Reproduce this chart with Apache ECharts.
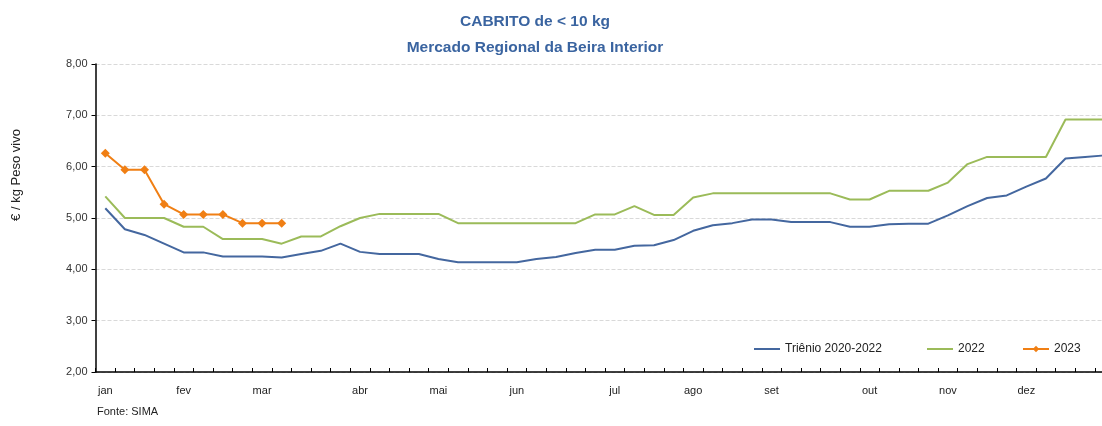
<!DOCTYPE html>
<html lang="pt">
<head>
  <meta charset="UTF-8">
  <title>Cabrito</title>
  <script src="https://cdn.jsdelivr.net/npm/echarts@6/dist/echarts.min.js"></script>
  <style type="text/css">
    html, body { margin: 0; padding: 0; background: #ffffff; overflow: hidden; }
    /* o gráfico original está cortado à direita: a última semana fica fora da imagem */
    #chart { width: 1115px; height: 426px; }
  </style>
</head>
<body>
<div id="chart"></div>
<script type="text/javascript">
// semanas do ano (1..52)
var weeks = [];
for (var w = 1; w <= 52; w++) { weeks.push(String(w)); }

// rótulos dos meses e semana onde aparecem
var monthNames = ['jan', 'fev', 'mar', 'abr', 'mai', 'jun', 'jul', 'ago', 'set', 'out', 'nov', 'dez'];
var monthWeek = [0, 4, 8, 13, 17, 21, 26, 30, 34, 39, 43, 47];

var yTicks = [2, 3, 4, 5, 6, 7, 8];

// Triénio 2020-2022
var trienio = [5.19, 4.78, 4.67, 4.50, 4.33, 4.33, 4.25, 4.25, 4.25, 4.23,
               4.30, 4.36, 4.50, 4.34, 4.30, 4.30, 4.30, 4.20, 4.14, 4.14,
               4.14, 4.14, 4.20, 4.24, 4.32, 4.38, 4.38, 4.46, 4.47, 4.57,
               4.75, 4.86, 4.90, 4.97, 4.97, 4.92, 4.92, 4.92, 4.83, 4.83,
               4.88, 4.89, 4.89, 5.05, 5.23, 5.39, 5.44, 5.61, 5.77, 6.16,
               6.19, 6.22];

// 2022
var ano2022 = [5.42, 5.00, 5.00, 5.00, 4.83, 4.83, 4.59, 4.59, 4.59, 4.50,
               4.64, 4.64, 4.84, 5.00, 5.08, 5.08, 5.08, 5.08, 4.90, 4.90,
               4.90, 4.90, 4.90, 4.90, 4.90, 5.07, 5.07, 5.23, 5.06, 5.06,
               5.40, 5.48, 5.48, 5.48, 5.48, 5.48, 5.48, 5.48, 5.36, 5.36,
               5.53, 5.53, 5.53, 5.69, 6.05, 6.19, 6.19, 6.19, 6.19, 6.92,
               6.92, 6.92];

// 2023 (até à semana 10)
var ano2023 = [6.26, 5.94, 5.94, 5.27, 5.07, 5.07, 5.07, 4.90, 4.90, 4.90];

var font = 'Liberation Sans';

var myChart = echarts.init(document.getElementById('chart'));

var legendText = { fontFamily: font, fontSize: 12, color: '#222' };

var option = {
  animation: false,
  title: {
    text: 'CABRITO de < 10 kg\nMercado Regional da Beira Interior',
    left: 530,
    top: 4,
    textAlign: 'center',
    textStyle: {
      fontFamily: font,
      fontSize: 15.5,
      fontWeight: 'bold',
      color: '#3a64a0',
      lineHeight: 26
    }
  },
  legend: [
    {
      data: ['Triênio 2020-2022'],
      left: 749, top: 338,
      icon: 'rect',
      itemWidth: 26, itemHeight: 2,
      textStyle: legendText
    },
    {
      data: ['2022'],
      left: 922, top: 338,
      icon: 'rect',
      itemWidth: 26, itemHeight: 2,
      textStyle: legendText
    },
    {
      data: ['2023'],
      left: 1017, top: 338,
      itemWidth: 26, itemHeight: 8,
      textStyle: legendText
    }
  ],
  grid: {
    left: 95.5,
    top: 64,
    bottom: 54,
    right: 0.5
  },
  xAxis: {
    type: 'category',
    data: weeks,
    boundaryGap: true,
    axisLine: { lineStyle: { color: '#000', width: 1.5 } },
    axisTick: { show: true, inside: true, length: 4, interval: 0, lineStyle: { color: '#000' } },
    axisLabel: {
      interval: 0,
      margin: 13,
      fontFamily: font,
      fontSize: 11,
      color: '#222',
      formatter: function (value, index) {
        var k = monthWeek.indexOf(index);
        return k >= 0 ? monthNames[k] : '';
      }
    },
    splitLine: { show: false }
  },
  yAxis: {
    type: 'value',
    min: yTicks[0],
    max: yTicks[yTicks.length - 1],
    interval: 1,
    axisLine: { show: true, lineStyle: { color: '#000', width: 1.5 } },
    axisTick: { show: true, length: 4, lineStyle: { color: '#000' } },
    axisLabel: {
      margin: 8,
      fontFamily: font,
      fontSize: 11,
      color: '#333',
      formatter: function (v) { return v.toFixed(2).replace('.', ','); }
    },
    splitLine: { show: true, lineStyle: { color: '#d9d9d9', type: 'dashed' } }
  },
  graphic: [
    {
      type: 'text',
      x: 16, y: 175,
      rotation: Math.PI / 2,
      style: {
        text: '€ / kg Peso vivo',
        fontFamily: font,
        fontSize: 13,
        fill: '#222',
        align: 'center',
        verticalAlign: 'middle'
      }
    },
    {
      type: 'text',
      x: 97, y: 406,
      style: {
        text: 'Fonte: SIMA',
        fontFamily: font,
        fontSize: 11,
        fill: '#222'
      }
    }
  ],
  series: [
    {
      name: 'Triênio 2020-2022',
      type: 'line',
      data: trienio,
      symbol: 'none',
      lineStyle: { color: '#44679f', width: 2 },
      itemStyle: { color: '#44679f' }
    },
    {
      name: '2022',
      type: 'line',
      data: ano2022,
      symbol: 'none',
      lineStyle: { color: '#9bbb59', width: 2 },
      itemStyle: { color: '#9bbb59' }
    },
    {
      name: '2023',
      type: 'line',
      data: ano2023,
      symbol: 'diamond',
      symbolSize: 9,
      lineStyle: { color: '#f07f14', width: 2 },
      itemStyle: { color: '#f07f14' }
    }
  ]
};
myChart.setOption(option);
</script>
</body>
</html>
